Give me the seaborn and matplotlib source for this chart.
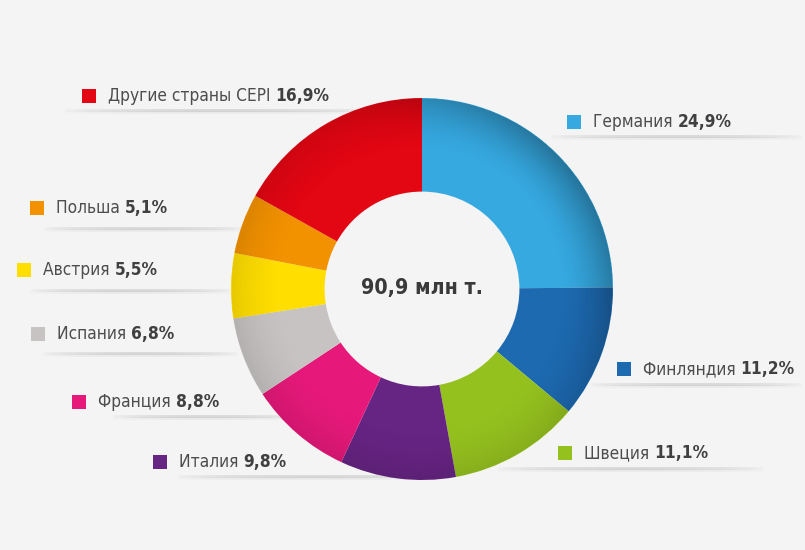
import matplotlib
matplotlib.use('Agg')
import matplotlib.pyplot as plt
import seaborn as sns
import numpy as np
from matplotlib import font_manager
from matplotlib.ft2font import FT2Font
from matplotlib.collections import LineCollection

# data, clockwise from 12 o'clock
countries = ['Германия', 'Финляндия', 'Швеция', 'Италия', 'Франция',
             'Испания', 'Австрия', 'Польша', 'Другие страны CEPI']
shares = [24.9, 11.2, 11.1, 9.8, 8.8, 6.8, 5.5, 5.1, 16.9]
share_labels = ['24,9%', '11,2%', '11,1%', '9,8%', '8,8%', '6,8%', '5,5%', '5,1%', '16,9%']
colors = ['#36a9e1', '#1d6ab1', '#95c11f', '#662483', '#e6197a',
          '#c6c3c2', '#ffde00', '#f39200', '#e30613']
total_label = '90,9 млн т.'

# layout in pixels: square centre x, text centre y, shadow line y, line x0, line x1
label_pos = [(574, 122, 136, 547, 805), (624, 369, 384, 587, 805),
             (565, 453, 468, 493, 767), (160, 462, 476, 173, 450),
             (79, 402, 416, 110, 300), (38, 334, 353, 40, 240),
             (24, 270, 290, 27, 233), (37, 208, 228, 40, 247),
             (89, 96, 110, 60, 380)]

W, H = 805, 550
sns.set_theme(style='white')


def has_cyrillic(path):
    try:
        return FT2Font(path).get_char_index(ord('Д')) != 0
    except Exception:
        return False


# look for a condensed face that covers Cyrillic, ideally with a bold weight
groups = {}
for f in font_manager.fontManager.ttflist:
    narrow = ('Narrow' in f.name or 'Condensed' in f.name or
              str(f.stretch) in ('condensed', 'semi-condensed', 'extra-condensed'))
    if narrow and has_cyrillic(f.fname):
        groups.setdefault((f.name, str(f.stretch)), []).append(f)

family, stretch = 'DejaVu Sans', 'normal'
best = -1
for (name, st), fl in groups.items():
    weights = [int(f.weight) if str(f.weight).isdigit() else 400 for f in fl]
    score = (any(w >= 600 for w in weights) * 2 + any(350 <= w <= 500 for w in weights))
    if score > best:
        best, family, stretch = score, name, st
plt.rcParams['font.family'] = [family, 'DejaVu Sans']
if stretch in ('condensed', 'semi-condensed', 'extra-condensed'):
    plt.rcParams['font.stretch'] = stretch

fig = plt.figure(figsize=(W / 100, H / 100), dpi=100, facecolor='#f4f4f4')

bg = fig.add_axes([0, 0, 1, 1])
bg.set_xlim(0, W)
bg.set_ylim(H, 0)
bg.axis('off')

# soft shadow lines under the labels
for (sx, ty, ly, lx0, lx1) in label_pos:
    xs = np.linspace(lx0, lx1, 60)
    prof = np.sin(np.linspace(0, np.pi, len(xs) - 1)) ** 0.6
    for off, a in [(0, 0.22), (2, 0.08)]:
        segs = [[(xs[i], ly + off), (xs[i + 1], ly + off)] for i in range(len(xs) - 1)]
        cols = [(0.45, 0.45, 0.45, a * p) for p in prof]
        bg.add_collection(LineCollection(segs, colors=cols, linewidths=2.0))

# donut
cx, cy, r = 422, 289, 191
hole = 0.51
ax = fig.add_axes([(cx - r) / W, (H - cy - r) / H, 2 * r / W, 2 * r / H])
ax.pie(shares, colors=sns.color_palette(colors), startangle=90, counterclock=False,
       radius=1, wedgeprops=dict(width=1 - hole, edgecolor='none'))

# smooth darkening toward the outer rim, strongest at the upper right
g = np.linspace(-1, 1, 600)
gx, gy = np.meshgrid(g, g)
rr = np.hypot(gx, gy)
th = np.arctan2(gy, gx)
ang_f = 0.3 + 0.7 * np.clip(np.cos(th - np.radians(35)), 0, None) ** 1.5
rad_f = np.clip((rr - 0.72) / 0.28, 0, 1) ** 1.6
alpha = 0.32 * ang_f * rad_f
alpha[(rr > 1.0) | (rr < hole)] = 0
shade = np.zeros((600, 600, 4))
shade[..., 3] = alpha
ax.imshow(shade, extent=(-1, 1, -1, 1), origin='lower', interpolation='bilinear', zorder=3)
ax.set_xlim(-1, 1)
ax.set_ylim(-1, 1)
ax.set_aspect('auto')
ax.axis('off')

# text layer above everything
top = fig.add_axes([0, 0, 1, 1])
top.set_xlim(0, W)
top.set_ylim(H, 0)
top.axis('off')
top.patch.set_alpha(0)

renderer = fig.canvas.get_renderer()


def width_px(txt, size, weight='normal'):
    t = top.text(0, 0, txt, fontsize=size, fontweight=weight)
    w = t.get_window_extent(renderer).width
    t.remove()
    return w


# size: reference label "Другие страны CEPI 16,9%" is ~212 px wide, allow a bit more
base = 16
w_full = width_px('Другие страны CEPI ', base) + width_px('16,9%', base, 'bold')
w_fin = width_px('Финляндия ', base) + width_px('11,2%', base, 'bold')
fs = min(17, base * 245 / w_full, base * 152 / w_fin)

c_fs = min(18, 16 * 122 / width_px(total_label, 16, 'bold'))
top.text(cx, cy - 1, total_label, ha='center', va='center', fontsize=c_fs,
         fontweight='bold', color='#3a3a3a')

for (sx, ty, ly, lx0, lx1), name, val, col in zip(label_pos, countries, share_labels, colors):
    top.add_patch(plt.Rectangle((sx - 7, ty - 7), 14, 14, color=col, lw=0))
    t = top.text(sx + 19, ty, name + ' ', ha='left', va='center', fontsize=fs,
                 color='#4d4d4d')
    w = t.get_window_extent(renderer).width
    top.text(sx + 19 + w, ty, val, ha='left', va='center', fontsize=fs,
             fontweight='bold', color='#404040')

fig.savefig('out.png', dpi=100, facecolor=fig.get_facecolor())
